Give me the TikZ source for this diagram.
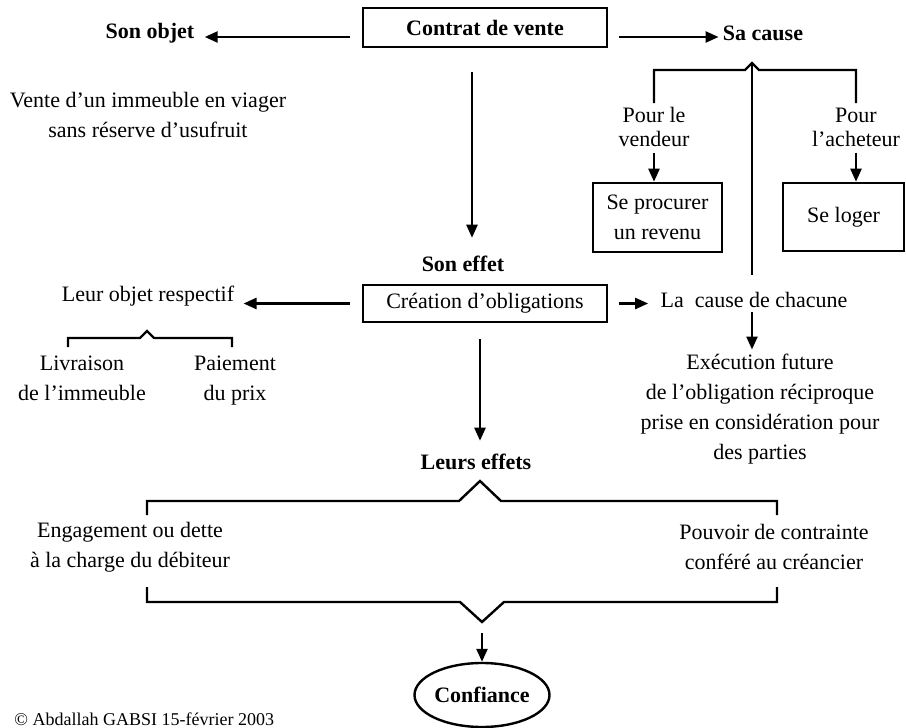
\documentclass[tikz,border=0pt]{standalone}
\usepackage{fontspec}
\setmainfont{Liberation Serif}
\usetikzlibrary{arrows.meta,shapes.geometric}

\begin{document}
\begin{tikzpicture}[auto, x=0.5pt, y=-0.5pt, font=\fontsize{11}{15}\selectfont]
\tikzstyle{block} = [rectangle, draw, line width=1.3pt, text centered, align=center, inner sep=1pt]
\tikzstyle{word} = [align=center, inner sep=2pt]
\tikzstyle{tight} = [word, font=\fontsize{11}{12}\selectfont]
\tikzstyle{heading} = [word, font=\fontsize{11}{15}\selectfont\bfseries]
\tikzstyle{cloud} = [draw, line width=1.2pt, ellipse, inner sep=0pt, font=\fontsize{11}{15}\selectfont\bfseries]
\tikzstyle{brace} = [draw, line width=1.2pt]
\tikzstyle{line} = [draw, line width=1.2pt, -{Triangle[length=6.5pt,width=5.5pt]}];
\useasboundingbox (0,0) rectangle (906,728);

% top row
\node [block, minimum width=122pt, minimum height=19.5pt, font=\fontsize{11}{15}\selectfont\bfseries] (contrat) at (485,27.5) {Contrat de vente};
\node [heading] (objet) at (150,33) {Son objet};
\node [heading] (cause) at (763,33) {Sa cause};
\node [word] (vente) at (148,115) {Vente d’un immeuble en viager\\sans réserve d’usufruit};
% sa cause
\coordinate (peakc) at (752,63);
\node [tight] (vendeur) at (654,127) {Pour le\\vendeur};
\node [tight] (acheteur) at (856,127) {Pour\\l’acheteur};
\node [block, minimum width=64.5pt, minimum height=34.5pt] (revenu) at (657.5,217.5) {Se procurer\\un revenu};
\node [block, minimum width=60.5pt, minimum height=34pt] (loger) at (843.5,217) {Se loger};
% son effet
\node [heading] (effet) at (463,264) {Son effet};
\node [block, minimum width=122pt, minimum height=18.5pt] (creation) at (485,303.5) {Création d’obligations};
\node [word] (respectif) at (148,296) {Leur objet respectif};
\node [word] (chacune) at (754,300) {La\ \ cause de chacune};
\node [word, anchor=north] (livraison) at (82,352) {Livraison\\de l’immeuble};
\node [word, anchor=north] (paiement) at (235,352) {Paiement\\du prix};
\node [word] (execution) at (760,409) {Exécution future\\de l’obligation réciproque\\prise en considération pour\\des parties};
% leurs effets
\node [heading] (effets) at (476,462) {Leurs effets};
\node [word] (engagement) at (130,547) {Engagement ou dette\\à la charge du débiteur};
\node [word] (pouvoir) at (774,547) {Pouvoir de contrainte\\conféré au créancier};
\coordinate (vtip) at (482,622);
\node [cloud, minimum width=67.5pt, minimum height=32pt] (confiance) at (482,695) {Confiance};
\node [anchor=base west, inner sep=0pt, font=\fontsize{9}{11}\selectfont] (auteur) at (14,725) {© Abdallah GABSI 15-février 2003};

% brackets
\draw [brace] (654,103) -- (654,70) -- (745,70) -- (peakc) -- (759,70) -- (856,70) -- (856,103);
\draw [brace, shorten >=6.5pt] (peakc) -- (peakc |- chacune.north);
\draw [brace] (68,347) -- (68,338) -- (140,338) -- (147,331) -- (154,338) -- (232,338) -- (232,347);
\draw [brace] (147,515) -- (147,501) -- (459,501) -- (480,481) -- (501,501) -- (777,501) -- (777,515);
\draw [brace] (147,587) -- (147,602) -- (460,602) -- (vtip) -- (504,602) -- (777,602) -- (777,587);

\tikzstyle{every path}=[line]
\path [shorten <=6pt, shorten >=3pt] ([yshift=-4.75pt]contrat.west) -- ([yshift=-4.75pt]contrat.west -| objet.east);
\path [shorten <=5.5pt] ([yshift=-4.75pt]contrat.east) -- ([yshift=-4.75pt]contrat.east -| cause.west);
\path [shorten <=12pt, shorten >=7pt] ([xshift=-6.5pt]contrat.south) -- ([xshift=-6.5pt]contrat.south |- effet.north);
\path [shorten <=1pt] (vendeur) -- (vendeur |- revenu.north);
\path [shorten <=1pt] (acheteur) -- (acheteur |- loger.north);
\path [shorten <=6pt, shorten >=2.5pt] (creation.west) -- (creation.west -| respectif.east);
\path [shorten <=5.5pt, shorten >=4pt] (creation.east) -- (creation.east -| chacune.west);
\path (peakc |- chacune.south) -- (peakc |- execution.north);
\path [shorten <=8pt, shorten >=4.5pt] ([xshift=-2.5pt]creation.south) -- ([xshift=-2.5pt]creation.south |- effets.north);
\path [shorten <=5.5pt] (vtip) -- (confiance);
\end{tikzpicture}
\end{document}
